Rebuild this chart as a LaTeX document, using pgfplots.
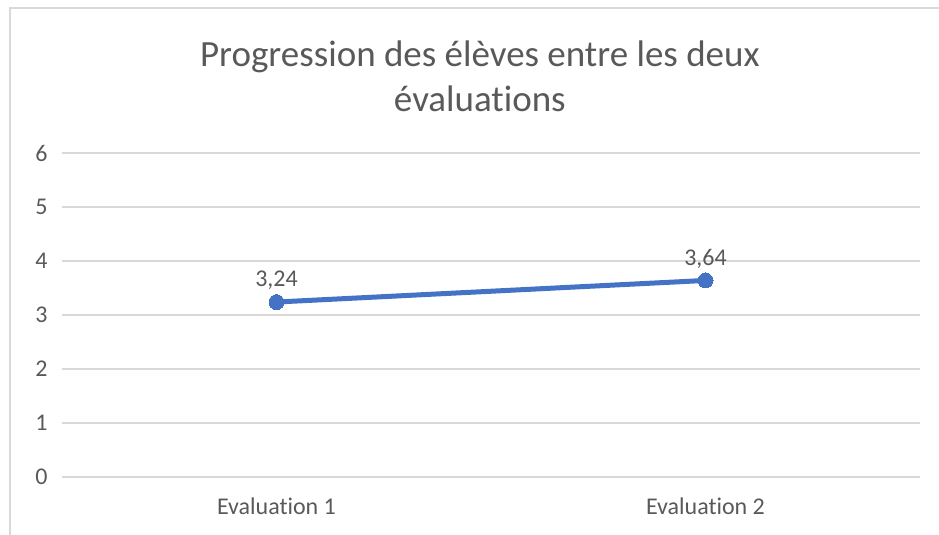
\documentclass[border=0pt]{standalone}
\usepackage{fontspec}
\setmainfont{Carlito}[Ligatures=NoCommon]
\usepackage{pgfplots}
\pgfplotsset{compat=1.18}
\definecolor{txt}{HTML}{595959}
\definecolor{grd}{HTML}{D9D9D9}
\definecolor{ser}{HTML}{4472C4}
\begin{document}
\begin{tikzpicture}[x=1pt,y=1pt]
\path[use as bounding box] (0,0) rectangle (939,535);
\draw[grd, line width=1.5pt] (10,0) -- (10,527) -- (939,527);
\begin{axis}[
  at={(62pt,58pt)}, anchor=south west,
  scale only axis, width=858pt, height=324pt,
  xmin=0, xmax=2, ymin=0, ymax=6,
  xtick={0.5,1.5}, xticklabels={Evaluation 1, Evaluation 2},
  ytick={0,1,...,6},
  ymajorgrids, grid style={grd, line width=1.6pt},
  axis line style={draw=none},
  major tick length=0pt,
  tick label style={font=\fontsize{24}{28}\selectfont, text=txt},
  xticklabel style={yshift=-17pt},
  yticklabel style={xshift=-11pt},
  /pgf/number format/assume math mode=true,
  title={Progression des élèves entre les deux\\évaluations},
  title style={at={(axis description cs:0.487,1.218)}, anchor=center, align=center,
    font=\fontsize{37}{45}\selectfont, text=txt},
  clip=false,
]
\addplot[ser, line width=5pt, mark=*, mark size=7.5pt,
  mark options={fill=ser, draw=ser, line width=0pt},
  nodes near coords,
  every node near coord/.append style={font=\fontsize{24}{28}\selectfont, text=txt, anchor=south, yshift=9pt},
  /pgf/number format/.cd, use comma, fixed, fixed zerofill, precision=2, assume math mode=true]
  coordinates {(0.5,3.24) (1.5,3.64)};
\end{axis}
\end{tikzpicture}
\end{document}
